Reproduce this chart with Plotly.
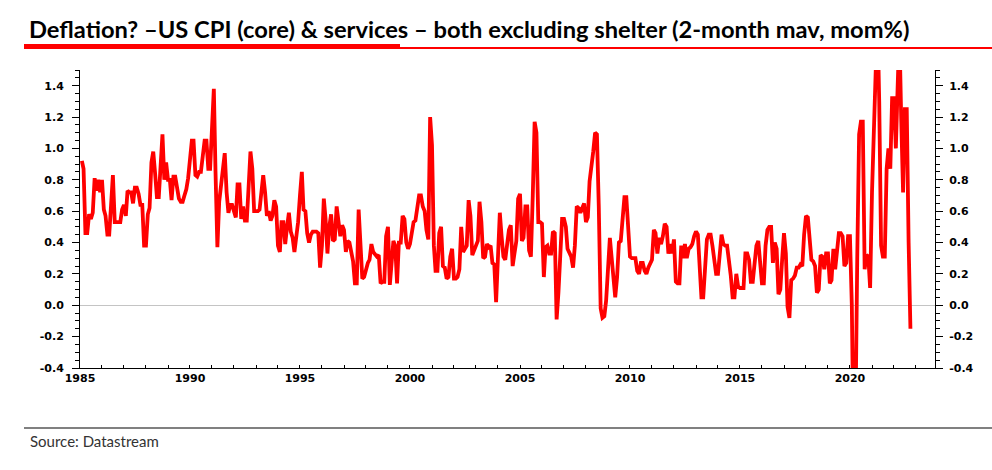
import pandas as pd
import plotly.graph_objects as go

# ---- Data (2-month mav, mom %), monthly, starting Feb 1985 ----
y1985 = [0.92, 0.87, 0.46, 0.46, 0.58, 0.55, 0.59, 0.81, 0.73, 0.80, 0.72]  # Feb-Dec
y1986 = [0.80, 0.61, 0.57, 0.45, 0.45, 0.64, 0.83, 0.53, 0.53, 0.53, 0.53, 0.61]
y1987 = [0.64, 0.57, 0.73, 0.72, 0.72, 0.65, 0.75, 0.75, 0.71, 0.64, 0.64, 0.38]
y1988 = [0.38, 0.58, 0.62, 0.91, 0.98, 0.84, 0.69, 0.69, 0.88, 1.09, 0.80, 0.91]
y1989 = [0.80, 0.80, 0.67, 0.82, 0.82, 0.74, 0.68, 0.66, 0.66, 0.70, 0.74, 0.81]
y1990 = [0.93, 1.05, 1.05, 0.83, 0.82, 0.85, 0.85, 0.95, 1.05, 1.05, 0.87, 0.87]
y1991 = [1.12, 1.38, 0.85, 0.37, 0.66, 0.75, 0.84, 0.97, 0.72, 0.59, 0.64, 0.64]
y1992 = [0.60, 0.56, 0.77, 0.77, 0.55, 0.63, 0.54, 0.54, 0.76, 0.98, 0.87, 0.60]
y1993 = [0.60, 0.60, 0.61, 0.72, 0.83, 0.72, 0.57, 0.60, 0.54, 0.57, 0.67, 0.63]
y1994 = [0.38, 0.34, 0.53, 0.53, 0.39, 0.50, 0.59, 0.47, 0.43, 0.34, 0.44, 0.53]
y1995 = [0.70, 0.85, 0.61, 0.60, 0.46, 0.40, 0.45, 0.47, 0.47, 0.47, 0.46, 0.24]
y1996 = [0.38, 0.68, 0.55, 0.33, 0.50, 0.58, 0.41, 0.42, 0.63, 0.53, 0.44, 0.51]
y1997 = [0.48, 0.34, 0.41, 0.40, 0.34, 0.28, 0.14, 0.14, 0.61, 0.40, 0.17, 0.18]
y1998 = [0.23, 0.27, 0.29, 0.39, 0.34, 0.32, 0.31, 0.32, 0.14, 0.15, 0.15, 0.44]
y1999 = [0.50, 0.13, 0.25, 0.41, 0.38, 0.14, 0.40, 0.40, 0.57, 0.55, 0.40, 0.36]
y2000 = [0.39, 0.46, 0.53, 0.54, 0.62, 0.70, 0.70, 0.63, 0.60, 0.48, 0.42, 1.20]
y2001 = [1.02, 0.38, 0.22, 0.22, 0.46, 0.50, 0.25, 0.24, 0.17, 0.18, 0.31, 0.36]
y2002 = [0.17, 0.17, 0.18, 0.23, 0.50, 0.34, 0.36, 0.38, 0.67, 0.57, 0.32, 0.36]
y2003 = [0.38, 0.41, 0.66, 0.53, 0.30, 0.31, 0.39, 0.37, 0.38, 0.27, 0.26, 0.02]
y2004 = [0.38, 0.59, 0.44, 0.31, 0.29, 0.38, 0.48, 0.51, 0.25, 0.33, 0.41, 0.68]
y2005 = [0.71, 0.41, 0.43, 0.63, 0.63, 0.35, 0.31, 0.70, 1.17, 1.10, 0.53, 0.53]
y2006 = [0.52, 0.18, 0.37, 0.38, 0.33, 0.33, 0.47, 0.46, -0.09, 0.08, 0.40, 0.55]
y2007 = [0.55, 0.50, 0.36, 0.34, 0.31, 0.24, 0.38, 0.63, 0.62, 0.59, 0.62, 0.65]
y2008 = [0.53, 0.56, 0.79, 0.87, 0.98, 1.10, 1.09, 0.63, -0.02, -0.08, -0.07, 0.03]
y2009 = [0.25, 0.43, 0.31, 0.16, 0.05, 0.18, 0.40, 0.41, 0.55, 0.69, 0.69, 0.50]
y2010 = [0.31, 0.30, 0.30, 0.30, 0.22, 0.20, 0.27, 0.27, 0.22, 0.20, 0.24, 0.27]
y2011 = [0.29, 0.48, 0.46, 0.33, 0.43, 0.39, 0.44, 0.52, 0.50, 0.33, 0.39, 0.33]
y2012 = [0.42, 0.15, 0.14, 0.14, 0.38, 0.30, 0.39, 0.30, 0.36, 0.37, 0.39, 0.44]
y2013 = [0.47, 0.45, 0.29, 0.05, 0.05, 0.29, 0.42, 0.45, 0.45, 0.38, 0.27, 0.20]
y2014 = [0.20, 0.33, 0.45, 0.39, 0.38, 0.38, 0.29, 0.19, 0.05, 0.05, 0.20, 0.12]
y2015 = [0.11, 0.11, 0.11, 0.33, 0.33, 0.29, 0.15, 0.15, 0.29, 0.38, 0.41, 0.25]
y2016 = [0.14, 0.14, 0.38, 0.48, 0.50, 0.50, 0.27, 0.40, 0.36, 0.07, 0.10, 0.29]
y2017 = [0.46, 0.33, -0.01, -0.08, 0.16, 0.17, 0.19, 0.24, 0.24, 0.26, 0.25, 0.45]
y2018 = [0.57, 0.56, 0.44, 0.29, 0.28, 0.25, 0.08, 0.10, 0.32, 0.31, 0.23, 0.33]
y2019 = [0.33, 0.14, 0.16, 0.36, 0.23, 0.33, 0.46, 0.46, 0.44, 0.25, 0.27, 0.44]
y2020 = [0.44, 0.00, -0.90, -0.75, 0.30, 1.09, 1.17, 1.17, 0.23, 0.32, 0.31, 0.11]
y2021 = [0.72, 1.37, 1.80, 1.85, 1.30, 0.38, 0.31, 0.31, 0.87, 1.00, 0.87, 1.32]
y2022 = [1.32, 1.00, 1.37, 1.75, 1.19, 0.72, 1.25, 1.25, 0.40, -0.15]  # Jan-Oct

series_start = "1985-02-01"

x_tick_years = [1985, 1990, 1995, 2000, 2005, 2010, 2015, 2020]
y_tick_vals = [-0.4, -0.2, 0.0, 0.2, 0.4, 0.6, 0.8, 1.0, 1.2, 1.4]
y_tick_text = ["-0.4", "-0.2", "0.0", "0.2", "0.4", "0.6", "0.8", "1.0", "1.2", "1.4"]

title_text = "Deflation? \u2013US CPI (core) & services \u2013 both excluding shelter (2-month mav, mom%)"
source_text = "Source: Datastream"

# ---- Build ----
values = (y1985 + y1986 + y1987 + y1988 + y1989 + y1990 + y1991 + y1992 + y1993 + y1994
          + y1995 + y1996 + y1997 + y1998 + y1999 + y2000 + y2001 + y2002 + y2003 + y2004
          + y2005 + y2006 + y2007 + y2008 + y2009 + y2010 + y2011 + y2012 + y2013 + y2014
          + y2015 + y2016 + y2017 + y2018 + y2019 + y2020 + y2021 + y2022)
dates = pd.date_range(series_start, periods=len(values), freq="MS")

W, H = 992, 470
L, R, T, B = 80, 57, 70, 102
PW, PH = W - L - R, H - T - B


def px(xp):
    return (xp - L) / PW


def py(yp):
    return (H - B - yp) / PH


RED = "#ff0000"
tickfont = dict(family="DejaVu Sans", size=11, color="#000000", weight="bold")

fig = go.Figure()
fig.add_trace(go.Scatter(x=dates, y=values, mode="lines",
                         line=dict(color=RED, width=3.8), showlegend=False,
                         hoverinfo="skip"))
fig.add_trace(go.Scatter(x=dates, y=values, mode="lines", yaxis="y2",
                         line=dict(color="rgba(0,0,0,0)", width=0), showlegend=False,
                         hoverinfo="skip"))

fig.update_layout(
    width=W, height=H,
    margin=dict(l=L, r=R, t=T, b=B, autoexpand=False),
    paper_bgcolor="white", plot_bgcolor="white",
    hovermode=False,
    xaxis=dict(
        type="date",
        range=["1985-01-01", "2023-11-13"],
        tickmode="array",
        tickvals=[f"{y}-01-01" for y in x_tick_years],
        ticktext=[str(y) for y in x_tick_years],
        ticks="inside", ticklen=3, tickcolor="black",
        minor=dict(dtick="M12", tick0="1985-01-01", ticks="inside", ticklen=3,
                   tickcolor="black", showgrid=False),
        showline=True, linecolor="black", linewidth=1,
        showgrid=False, zeroline=False,
        tickfont=tickfont, ticklabelstandoff=0,
    ),
    yaxis=dict(
        range=[-0.4, 1.5],
        tickmode="array", tickvals=y_tick_vals, ticktext=y_tick_text,
        ticks="outside", ticklen=7, tickcolor="black",
        minor=dict(dtick=0.05, tick0=0, ticks="outside", ticklen=4,
                   tickcolor="black", showgrid=False),
        showline=True, linecolor="black", linewidth=1,
        showgrid=False, zeroline=True, zerolinecolor="#c4c4c4", zerolinewidth=1,
        tickfont=tickfont, ticklabelstandoff=6,
    ),
    yaxis2=dict(
        overlaying="y", side="right", anchor="x",
        range=[-0.4, 1.5],
        tickmode="array", tickvals=y_tick_vals, ticktext=y_tick_text,
        ticks="outside", ticklen=7, tickcolor="black",
        minor=dict(dtick=0.05, tick0=0, ticks="outside", ticklen=4,
                   tickcolor="black", showgrid=False),
        showline=True, linecolor="black", linewidth=1,
        showgrid=False, zeroline=False,
        tickfont=tickfont, ticklabelstandoff=4,
    ),
    shapes=[
        dict(type="rect", xref="paper", yref="paper",
             x0=px(24), x1=px(400), y0=py(49), y1=py(44),
             fillcolor=RED, line=dict(width=0), layer="above"),
        dict(type="rect", xref="paper", yref="paper",
             x0=px(400), x1=px(992), y0=py(49), y1=py(47),
             fillcolor=RED, line=dict(width=0), layer="above"),
        dict(type="rect", xref="paper", yref="paper",
             x0=px(24), x1=px(992), y0=py(429), y1=py(427),
             fillcolor="#808080", line=dict(width=0), layer="above"),
    ],
    annotations=[
        dict(text=title_text, xref="paper", yref="paper",
             x=px(27), y=py(29), xanchor="left", yanchor="middle", showarrow=False,
             font=dict(family="Lato", size=23.7, color="#000000", weight="bold")),
        dict(text=source_text, xref="paper", yref="paper",
             x=px(28), y=py(441), xanchor="left", yanchor="middle", showarrow=False,
             font=dict(family="Lato", size=15, color="#333333")),
    ],
)

fig.write_html("out.html",
               config={"displayModeBar": False, "staticPlot": True},
               post_script="document.body.style.margin='0';document.body.style.overflow='hidden';")
